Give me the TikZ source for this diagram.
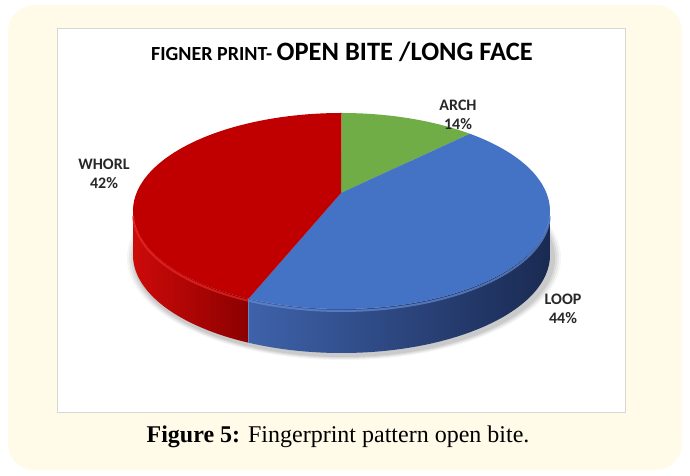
\documentclass[tikz,border=0pt]{standalone}
\usepackage{fontspec}
\usetikzlibrary{calc}
\setmainfont{Carlito}
\newfontfamily\capfont{Liberation Serif}
\definecolor{bgyellow}{RGB}{255,251,232}
\definecolor{boxline}{RGB}{215,215,215}
\definecolor{pred}{RGB}{192,0,0}
\definecolor{pgreen}{RGB}{112,173,71}
\definecolor{pblue}{RGB}{68,114,196}
\definecolor{lbl}{RGB}{40,40,40}
\definecolor{redside1}{RGB}{205,10,10}
\definecolor{redside2}{RGB}{140,0,0}
\definecolor{blueside1}{RGB}{62,98,170}
\definecolor{blueside2}{RGB}{26,42,82}
\definecolor{redhi}{RGB}{235,40,40}
\definecolor{bluehi}{RGB}{100,140,215}
\begin{document}
\begin{tikzpicture}[x=1pt,y=1pt,
  lab/.style={font=\bfseries\fontsize{16}{19}\selectfont, text=lbl, align=center}]
\useasboundingbox (0,0) rectangle (690,476);
% background panels
\node[draw=none, fill=bgyellow, rounded corners=26pt, minimum width=674pt, minimum height=465pt, inner sep=0pt] (panel) at (345,238.5) {};
\node[draw=boxline, line width=0.8pt, fill=white, minimum width=568pt, minimum height=384pt, inner sep=0pt] (chart) at (341,256) {};
% title
\node (title) at (342,424) {\bfseries\fontsize{20}{24}\selectfont FIGNER PRINT- \fontsize{26.5}{30}\selectfont OPEN BITE /LONG FACE};
% shadow
\foreach \d/\o in {8/0.04,6/0.05,4/0.06,2/0.07}{
  \fill[black, opacity=\o] (344,218) ellipse[x radius=209+\d, y radius=98+\d*0.5];
}
% sides
\coordinate (C) at (341,283);
\coordinate (E) at (341.5,265);
\def\rx{208.5}
\def\ry{98}
\shade[left color=redside1, right color=redside2]
  ($(E)+(180:\rx pt and \ry pt)$) arc[start angle=180,end angle=243.5,x radius=\rx,y radius=\ry]
  -- ++(0,-44) arc[start angle=243.5,end angle=180,x radius=\rx,y radius=\ry] -- cycle;
\shade[left color=blueside1, right color=blueside2]
  ($(E)+(243.5:\rx pt and \ry pt)$) arc[start angle=243.5,end angle=360,x radius=\rx,y radius=\ry]
  -- ++(0,-44) arc[start angle=360,end angle=243.5,x radius=\rx,y radius=\ry] -- cycle;
% top slices
\fill[pgreen] (C) -- ($(E)+(90:\rx pt and \ry pt)$) arc[start angle=90,end angle=52,x radius=\rx,y radius=\ry] -- cycle;
\fill[pblue] (C) -- ($(E)+(52:\rx pt and \ry pt)$) arc[start angle=52,end angle=-116.5,x radius=\rx,y radius=\ry] -- cycle;
\fill[pred] (C) -- ($(E)+(243.5:\rx pt and \ry pt)$) arc[start angle=243.5,end angle=90,x radius=\rx,y radius=\ry] -- cycle;
% rim highlights
\draw[line width=2pt, redhi, opacity=0.7]
  ($(341.5,263)+(182:\rx pt and \ry pt)$) arc[start angle=182,end angle=243.5,x radius=\rx,y radius=\ry];
\draw[line width=2pt, bluehi, opacity=0.7]
  ($(341.5,263)+(243.5:\rx pt and \ry pt)$) arc[start angle=243.5,end angle=358,x radius=\rx,y radius=\ry];
% labels
\node[lab] (arch) at (458,361) {ARCH\\14\%};
\node[lab] (whorl) at (104,302) {WHORL\\42\%};
\node[lab] (loop) at (563,167) {LOOP\\44\%};
% caption
\node (caption) at (338,39) {\capfont\fontsize{24}{28}\selectfont\textbf{Figure 5:} Fingerprint pattern open bite.};
\end{tikzpicture}
\end{document}
